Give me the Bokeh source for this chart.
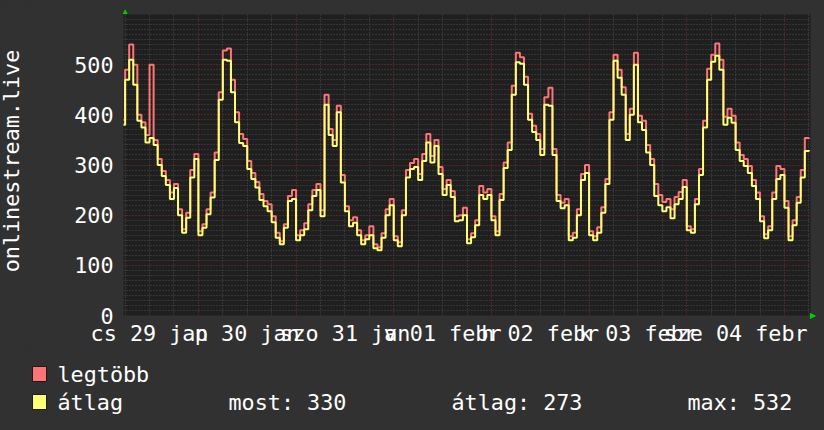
import math
from bokeh.plotting import figure
from bokeh.models import Range1d, FixedTicker, Grid, LinearAxis
from bokeh.layouts import column, row
from bokeh.core.properties import value
from bokeh.embed import file_html
from bokeh.resources import INLINE

FONT = "DejaVu Sans Mono"
FS = "21.75px"

# hourly samples, hours counted from Jan 29 00:00
hours = list(range(5, 175))

legtobb = [
    390, 490, 540, 500, 400, 385, 360, 500, 350, 312,
    288, 270, 245, 262, 212, 172, 205, 290, 322, 168,
    182, 212, 245, 325, 445, 528, 532, 470, 405, 362,
    352, 308, 284, 266, 242, 228, 222, 198, 165, 148,
    182, 238, 250, 160, 170, 184, 222, 250, 262, 210,
    440, 372, 350, 418, 280, 218, 190, 196, 170, 150,
    160, 178, 142, 136, 164, 212, 232, 158, 146, 210,
    290, 304, 312, 282, 322, 362, 318, 350, 296, 252,
    270, 248, 198, 200, 215, 152, 164, 190, 258, 245,
    252, 198, 168, 242, 305, 345, 458, 524, 515, 476,
    402, 378, 362, 332, 435, 454, 332, 240, 225, 232,
    158, 165, 212, 282, 300, 168, 158, 176, 216, 272,
    405, 520, 490, 455, 362, 412, 524, 398, 388, 340,
    312, 262, 240, 226, 232, 212, 236, 246, 270, 178,
    172, 232, 292, 388, 492, 520, 542, 510, 396, 412,
    398, 345, 320, 312, 298, 270, 245, 198, 162, 178,
    245, 298, 292, 228, 158, 190, 236, 290, 354, 352,
]

atlag = [
    380, 470, 510, 460, 388, 375, 345, 354, 340, 300,
    278, 260, 232, 254, 200, 165, 195, 275, 312, 160,
    175, 202, 235, 310, 430, 510, 508, 445, 385, 344,
    338, 292, 272, 255, 230, 218, 208, 186, 155, 142,
    175, 228, 232, 150, 160, 172, 210, 238, 250, 198,
    420, 360, 338, 405, 265, 208, 178, 185, 160, 142,
    152, 160, 134, 130, 155, 200, 220, 150, 138, 200,
    275, 292, 296, 270, 308, 345, 305, 338, 282, 240,
    260, 236, 188, 190, 200, 144, 156, 180, 240, 232,
    240, 190, 160, 230, 294, 330, 440, 505, 502, 460,
    390, 366, 350, 320, 420, 418, 320, 228, 214, 220,
    150, 155, 200, 270, 284, 160, 150, 165, 205, 262,
    390, 508, 474, 440, 350, 400, 500, 385, 370, 325,
    300, 238, 220, 208, 216, 194, 222, 232, 256, 170,
    165, 222, 280, 375, 470, 506, 518, 490, 380, 394,
    384, 330, 308, 298, 284, 258, 232, 188, 154, 170,
    232, 272, 280, 215, 150, 180, 225, 275, 328, 330,
]

day_label_hours = [12, 36, 60, 84, 108, 132, 156]
day_labels = ["cs 29 jan", "p 30 jan", "szo 31 jan", "v 01 febr",
              "h 02 febr", "k 03 febr", "sze 04 febr"]
day_line_hours = [24, 48, 72, 96, 120, 144, 168]
six_hour_lines = [6, 12, 18, 30, 36, 42, 54, 60, 66, 78, 84, 90, 102, 108, 114,
                  126, 132, 138, 150, 156, 162, 174]
y_ticks = [0, 100, 200, 300, 400, 500]
y_minor = [v for v in range(10, 600, 10) if v % 100]
y_major = [100, 200, 300, 400, 500]
series_names = ["legtöbb", "átlag"]
series_colors = ["#ff7474", "#ffff74"]
stats = ["most: 330", "átlag: 273", "max: 532"]
y_title = "onlinestream.live"

BG = "#313131"
PLOT_BG = "#1f1f1f"
TITLE_W = 26
CHART_H = 350

# ---- left strip with the vertical title (page-pixel coordinates) ----
tf = figure(width=TITLE_W, height=430, output_backend="svg", toolbar_location=None,
            x_range=Range1d(0, TITLE_W), y_range=Range1d(430, 0), min_border=0,
            background_fill_color=BG, border_fill_color=BG, outline_line_color=None,
            frame_align=False)
tf.axis.visible = False
tf.grid.visible = False
tf.text(x=[11], y=[160.5], text=[y_title], angle=math.pi / 2, text_align="center",
        text_baseline="alphabetic", text_font=value(FONT), text_font_size=FS,
        text_color="#ffffff")

# ---- main chart ----
p = figure(width=824 - TITLE_W, height=CHART_H, output_backend="svg",
           toolbar_location=None,
           x_range=Range1d(5.6, 174.4), y_range=Range1d(0, 600),
           min_border_left=123 - TITLE_W, min_border_right=14, min_border_top=14,
           min_border_bottom=CHART_H - 315,
           background_fill_color=PLOT_BG, border_fill_color=BG,
           outline_line_color=None, frame_align=False)

p.xgrid.visible = False
p.ygrid.visible = False

for dim, ticks, col in [(0, six_hour_lines, "#4e4e4e"), (1, y_minor, "#4a4a4a"),
                        (0, day_line_hours, "#8c2a2a"), (1, y_major, "#8c2a2a")]:
    p.add_layout(Grid(dimension=dim, ticker=FixedTicker(ticks=ticks),
                      grid_line_color=col, grid_line_dash="1 2",
                      grid_line_width=1))

p.step(hours, legtobb, mode="after", line_color=series_colors[0], line_width=2)
p.step(hours, atlag, mode="after", line_color=series_colors[1], line_width=2)

for ax in (p.xaxis[0], p.yaxis[0]):
    ax.axis_line_color = None
    ax.major_tick_line_color = None
    ax.minor_tick_line_color = None
    ax.major_label_text_font = FONT
    ax.major_label_text_font_size = FS
    ax.major_label_text_color = "#ffffff"

p.xaxis.ticker = FixedTicker(ticks=day_label_hours)
p.xaxis.major_label_overrides = {h: t for h, t in zip(day_label_hours, day_labels)}
p.xaxis.major_label_standoff = -1
p.yaxis.ticker = FixedTicker(ticks=y_ticks)
p.yaxis.major_label_standoff = 4

# green axis arrows, drawn as axis labels
top_arrow = LinearAxis(ticker=FixedTicker(ticks=[6]), major_label_overrides={6: "▲"},
                       axis_line_color=None, major_tick_line_color=None,
                       minor_tick_line_color=None, major_label_standoff=-7,
                       major_label_text_color="#00d000",
                       major_label_text_font_size="8px")
p.add_layout(top_arrow, "above")
right_arrow = LinearAxis(ticker=FixedTicker(ticks=[0]), major_label_overrides={0: "▶"},
                         axis_line_color=None, major_tick_line_color=None,
                         minor_tick_line_color=None, major_label_standoff=-7,
                         major_label_text_color="#00d000",
                         major_label_text_font_size="8px")
p.add_layout(right_arrow, "right")

# ---- legend strip below the chart (page-pixel coordinates) ----
leg = figure(width=824 - TITLE_W, height=430 - CHART_H, output_backend="svg",
             toolbar_location=None,
             x_range=Range1d(TITLE_W, 824), y_range=Range1d(430, CHART_H),
             min_border=0, background_fill_color=BG, border_fill_color=BG,
             outline_line_color=None, frame_align=False)
leg.axis.visible = False
leg.grid.visible = False
leg.quad(left=[32, 32], right=[46, 46], top=[366, 394], bottom=[381, 409],
         fill_color=series_colors, line_color="#1a1a1a", line_width=1)
leg.text(x=[57, 57], y=[373.5, 402], text=series_names, text_font=value(FONT),
         text_font_size=FS, text_color="#ffffff", text_baseline="alphabetic")
leg.text(x=[228, 451, 687], y=[402, 402, 402], text=stats, text_font=value(FONT),
         text_font_size=FS, text_color="#ffffff", text_baseline="alphabetic")

layout = row(tf, column(p, leg, spacing=0), spacing=0)

template = """{% block preamble %}<style>html, body {background-color: #313131;}</style>{% endblock %}"""
open("out.html", "w").write(file_html(layout, INLINE, template=template))
